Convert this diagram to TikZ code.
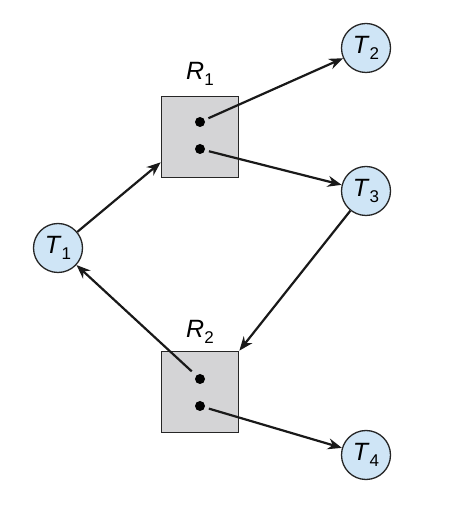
\documentclass[tikz,border=0pt]{standalone}
\usepackage{fontspec}
\setmainfont{Liberation Sans}
\usetikzlibrary{arrows.meta,calc}
\definecolor{resgray}{HTML}{D4D4D6}
\definecolor{thrblue}{HTML}{CFE5F6}
\newcommand{\lbl}[2]{\textit{#1}\raisebox{-0.45ex}{\fontsize{17}{17}\selectfont #2}}

\begin{document}
\begin{tikzpicture}[x=1pt, y=1pt, font=\fontsize{25}{25}\selectfont,
  res/.style={draw=black!85, line width=1.7pt, fill=resgray, minimum width=77pt, minimum height=81pt, inner sep=0pt},
  thr/.style={circle, draw=black!85, line width=1.3pt, fill=thrblue, minimum size=49pt, inner sep=0pt},
  dot/.style={circle, fill=black, minimum size=10pt, inner sep=0pt},
  arr/.style={-{Stealth[length=14pt, width=11pt]}, line width=2.2pt, black!90}]
\useasboundingbox (0,0) rectangle (454,530);
\node[res] (r1) at (200,393) {};
\node[res] (r2) at (200,138) {};
\node (r1lbl) at (200,456) {\lbl{R}{1}};
\node (r2lbl) at (200,198) {\lbl{R}{2}};
\node[dot] (r1a) at (200,408) {};
\node[dot] (r1b) at (200,381) {};
\node[dot] (r2a) at (200,151) {};
\node[dot] (r2b) at (200,124) {};
\node[thr] (t1) at (58,282) {\lbl{T}{1}};
\node[thr] (t2) at (366,482) {\lbl{T}{2}};
\node[thr] (t3) at (366,339) {\lbl{T}{3}};
\node[thr] (t4) at (366,75) {\lbl{T}{4}};
% request and assignment edges
\draw[arr] (t1) -- ([yshift=16pt]r1.south west);
\draw[arr, shorten <=4pt] (r1a) -- (t2);
\draw[arr, shorten <=4pt] (r1b) -- (t3);
\draw[arr] (t3) -- (r2.north east);
\draw[arr, shorten <=6pt] (r2a) -- (t1);
\draw[arr, shorten <=4pt] (r2b) -- (t4);
\end{tikzpicture}
\end{document}
